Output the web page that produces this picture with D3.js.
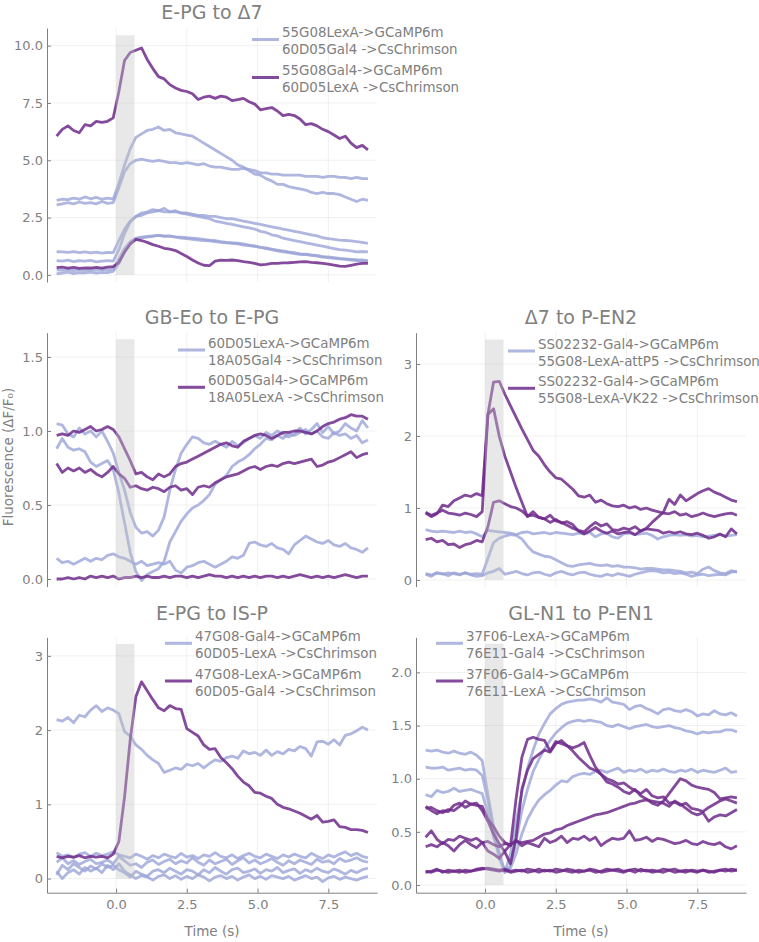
<!DOCTYPE html>
<html lang="en">
<head>
<meta charset="UTF-8">
<title>Connectivity traces</title>
<script src="https://cdn.jsdelivr.net/npm/d3@7"></script>
<style>
  body{margin:0;background:#fff;}
  text{font-family:"DejaVu Sans",sans-serif;fill:#808080;}
</style>
</head>
<body>
<svg width="759" height="942"></svg>
<script>
// sample times (s), shared by every trace
var time = [-2.1,-1.9,-1.7,-1.5,-1.3,-1.1,-0.9,-0.7,-0.5,-0.3,-0.1,
  0.1,0.3,0.5,0.7,0.9,1.1,1.3,1.5,1.7,1.9,
  2.1,2.3,2.5,2.7,2.9,3.1,3.3,3.5,3.7,3.9,
  4.1,4.3,4.5,4.7,4.9,5.1,5.3,5.5,5.7,5.9,
  6.1,6.3,6.5,6.7,6.9,7.1,7.3,7.5,7.7,7.9,
  8.1,8.3,8.5,8.7,8.9];
var stimWindow = [0, 0.65];
var xTicks = [0, 2.5, 5, 7.5];

// E-PG to Δ7
var epgD7Light = [
  [3.25,3.3,3.28,3.35,3.3,3.4,3.32,3.38,3.3,3.35,3.3,
   4.0,4.8,5.5,6.0,6.15,6.3,6.35,6.45,6.3,6.35,
   6.2,6.15,6.1,6.05,5.9,5.75,5.6,5.45,5.3,5.15,
   5.0,4.8,4.7,4.55,4.4,4.35,4.2,4.1,3.95,3.95,
   3.85,3.8,3.75,3.7,3.6,3.55,3.6,3.55,3.55,3.5,
   3.4,3.3,3.2,3.3,3.25],
  [3.05,3.1,3.15,3.1,3.18,3.12,3.15,3.1,3.2,3.12,3.15,
   3.8,4.5,4.85,5.0,5.05,5.0,4.95,5.0,4.95,4.9,
   4.9,4.85,4.9,4.85,4.8,4.85,4.75,4.7,4.7,4.65,
   4.6,4.6,4.65,4.6,4.55,4.45,4.45,4.4,4.4,4.35,
   4.35,4.35,4.35,4.3,4.3,4.3,4.25,4.3,4.3,4.25,
   4.25,4.2,4.25,4.2,4.2],
  [1.01,1.0,0.98,1.02,0.97,1.0,0.96,0.99,0.95,0.98,0.97,
   1.5,2.0,2.35,2.55,2.6,2.7,2.75,2.8,2.75,2.75,
   2.75,2.7,2.7,2.65,2.6,2.6,2.55,2.55,2.5,2.45,
   2.45,2.4,2.35,2.3,2.25,2.2,2.15,2.1,2.05,2.0,
   1.95,1.9,1.85,1.8,1.75,1.7,1.62,1.58,1.55,1.52,
   1.5,1.48,1.45,1.42,1.38],
  [0.62,0.6,0.64,0.58,0.62,0.6,0.63,0.57,0.6,0.62,0.6,
   1.1,1.8,2.3,2.55,2.7,2.75,2.85,2.8,2.9,2.75,
   2.8,2.7,2.65,2.6,2.55,2.5,2.45,2.35,2.3,2.25,
   2.2,2.15,2.1,2.05,2.0,1.9,1.85,1.75,1.7,1.6,
   1.55,1.5,1.45,1.4,1.35,1.3,1.25,1.2,1.15,1.1,
   1.08,1.05,1.0,1.02,1.0],
  [0.22,0.2,0.24,0.19,0.22,0.2,0.23,0.21,0.24,0.22,0.25,
   0.7,1.15,1.45,1.6,1.65,1.68,1.7,1.72,1.7,1.68,
   1.66,1.65,1.62,1.6,1.58,1.55,1.52,1.5,1.45,1.42,
   1.4,1.38,1.35,1.3,1.25,1.2,1.18,1.12,1.08,1.05,
   1.0,0.97,0.92,0.9,0.87,0.85,0.8,0.78,0.75,0.72,
   0.7,0.68,0.66,0.65,0.62],
  [0.05,0.08,0.12,0.06,0.1,0.09,0.12,0.08,0.11,0.1,0.15,
   0.5,1.0,1.35,1.55,1.62,1.65,1.68,1.72,1.68,1.7,
   1.65,1.6,1.58,1.55,1.52,1.5,1.48,1.45,1.42,1.4,
   1.38,1.35,1.3,1.28,1.25,1.2,1.15,1.1,1.05,1.0,
   0.97,0.93,0.9,0.88,0.85,0.82,0.78,0.75,0.72,0.7,
   0.68,0.65,0.62,0.6,0.58]
];
var epgD7Dark = [
  [6.05,6.35,6.5,6.3,6.2,6.55,6.5,6.7,6.65,6.7,6.85,
   8.0,9.35,9.7,9.8,9.9,9.4,9.0,8.65,8.55,8.3,
   8.15,8.05,8.0,7.9,7.65,7.75,7.8,7.7,7.8,7.75,
   7.6,7.65,7.7,7.55,7.45,7.2,7.25,7.3,7.15,6.95,
   7.0,6.95,6.8,6.55,6.6,6.5,6.35,6.25,6.1,5.95,
   6.05,5.75,5.55,5.65,5.45],
  [0.32,0.34,0.3,0.33,0.28,0.31,0.3,0.33,0.3,0.34,0.36,
   0.55,1.0,1.35,1.55,1.5,1.42,1.32,1.25,1.16,1.12,
   1.06,0.93,0.8,0.65,0.52,0.42,0.4,0.6,0.64,0.63,
   0.65,0.62,0.58,0.55,0.5,0.44,0.46,0.5,0.5,0.52,
   0.53,0.55,0.57,0.58,0.55,0.53,0.5,0.47,0.43,0.38,
   0.37,0.42,0.47,0.5,0.5]
];

// GB-Eo to E-PG
var gbeoEpgLight = [
  [1.05,1.04,0.98,0.96,1.02,0.98,1.0,0.96,1.0,0.93,0.85,
   0.72,0.6,0.45,0.35,0.31,0.32,0.29,0.33,0.42,0.6,
   0.74,0.85,0.91,0.96,0.95,0.92,0.91,0.93,0.91,0.89,
   0.93,0.9,0.92,0.95,0.97,0.95,0.99,0.97,1.0,0.98,
   0.96,0.98,1.02,0.98,1.01,1.05,0.99,1.03,0.98,1.0,
   1.05,1.02,1.0,1.07,1.02],
  [0.88,0.95,0.89,0.87,0.88,0.86,0.79,0.76,0.78,0.8,0.74,
   0.58,0.38,0.18,0.05,-0.01,0.03,0.05,0.07,0.12,0.25,
   0.32,0.39,0.44,0.48,0.5,0.53,0.57,0.64,0.67,0.7,
   0.76,0.79,0.81,0.84,0.88,0.91,0.95,0.94,0.97,0.95,
   0.98,0.97,0.99,1.01,0.98,1.0,0.96,0.95,0.99,0.97,
   0.98,0.95,0.97,0.92,0.94],
  [0.14,0.11,0.12,0.1,0.12,0.14,0.12,0.14,0.13,0.16,0.17,
   0.15,0.14,0.12,0.1,0.12,0.09,0.1,0.11,0.1,0.12,
   0.06,0.04,0.08,0.09,0.11,0.12,0.1,0.08,0.1,0.12,
   0.15,0.14,0.16,0.24,0.25,0.23,0.22,0.24,0.21,0.2,
   0.17,0.23,0.26,0.29,0.27,0.25,0.24,0.26,0.23,0.22,
   0.24,0.21,0.2,0.18,0.21]
];
var gbeoEpgDark = [
  [0.97,0.98,0.97,1.0,0.99,1.01,1.03,1.0,1.01,1.03,1.01,
   0.96,0.88,0.8,0.71,0.72,0.69,0.67,0.71,0.69,0.71,
   0.76,0.78,0.79,0.81,0.83,0.85,0.87,0.89,0.91,0.92,
   0.9,0.89,0.93,0.95,0.97,0.98,0.97,0.95,0.97,0.99,
   0.99,1.0,1.0,0.99,0.98,1.0,1.03,1.05,1.06,1.08,
   1.09,1.11,1.1,1.1,1.08],
  [0.78,0.72,0.75,0.73,0.75,0.72,0.74,0.71,0.69,0.72,0.76,
   0.71,0.68,0.62,0.63,0.61,0.6,0.62,0.61,0.59,0.62,
   0.63,0.6,0.61,0.57,0.62,0.63,0.62,0.65,0.67,0.69,
   0.7,0.71,0.73,0.75,0.76,0.74,0.76,0.77,0.76,0.78,
   0.79,0.78,0.79,0.8,0.81,0.76,0.77,0.79,0.8,0.82,
   0.84,0.86,0.82,0.84,0.85],
  [0.0,0.0,0.01,0.0,0.01,0.0,0.02,0.01,0.02,0.01,0.02,
   0.0,0.01,0.01,0.02,0.01,0.02,0.01,0.01,0.02,0.01,
   0.02,0.02,0.01,0.02,0.01,0.02,0.03,0.02,0.02,0.01,
   0.02,0.01,0.02,0.01,0.02,0.01,0.02,0.02,0.01,0.02,
   0.01,0.02,0.03,0.02,0.01,0.02,0.01,0.02,0.01,0.02,
   0.03,0.02,0.01,0.02,0.02]
];

// Δ7 to P-EN2
var d7Pen2Light = [
  [0.7,0.68,0.67,0.68,0.67,0.66,0.68,0.66,0.67,0.64,0.6,
   0.69,0.68,0.67,0.66,0.65,0.63,0.66,0.67,0.64,0.65,
   0.66,0.64,0.66,0.65,0.64,0.63,0.65,0.64,0.66,0.6,
   0.64,0.65,0.6,0.58,0.64,0.65,0.63,0.64,0.65,0.62,
   0.57,0.6,0.62,0.63,0.62,0.63,0.61,0.62,0.6,0.61,
   0.62,0.63,0.61,0.62,0.63],
  [0.09,0.07,0.1,0.08,0.1,0.09,0.07,0.1,0.08,0.09,0.08,
   0.3,0.52,0.58,0.61,0.63,0.62,0.57,0.47,0.39,0.36,
   0.33,0.32,0.28,0.24,0.2,0.19,0.21,0.22,0.23,0.21,
   0.2,0.21,0.19,0.2,0.18,0.18,0.17,0.15,0.16,0.16,
   0.15,0.14,0.14,0.13,0.12,0.1,0.11,0.09,0.15,0.18,
   0.13,0.1,0.09,0.13,0.11],
  [0.08,0.05,0.1,0.09,0.06,0.1,0.08,0.1,0.07,0.05,0.06,
   0.1,0.12,0.16,0.08,0.1,0.12,0.09,0.07,0.1,0.11,
   0.08,0.06,0.1,0.12,0.09,0.07,0.1,0.11,0.08,0.06,
   0.05,0.08,0.06,0.09,0.07,0.05,0.08,0.1,0.12,0.13,
   0.12,0.1,0.11,0.09,0.1,0.08,0.05,0.07,0.08,0.06,
   0.07,0.08,0.07,0.11,0.12]
];
var d7Pen2Dark = [
  [0.93,0.88,0.92,1.04,1.02,1.1,1.14,1.18,1.16,1.2,1.17,
   2.3,2.75,2.76,2.58,2.42,2.26,2.1,1.95,1.8,1.72,
   1.6,1.5,1.42,1.4,1.33,1.26,1.17,1.15,1.18,1.08,
   1.11,1.06,1.03,1.02,1.04,1.0,1.02,0.98,1.0,0.97,
   0.95,0.93,0.92,0.95,0.9,0.92,0.88,0.9,0.93,0.9,
   0.88,0.9,0.92,0.93,0.9],
  [0.94,0.9,0.93,0.97,0.93,0.92,0.9,0.93,0.91,0.88,0.95,
   2.3,2.38,2.0,1.72,1.5,1.28,1.08,0.88,0.95,0.87,
   0.85,0.9,0.82,0.8,0.76,0.72,0.69,0.67,0.74,0.8,
   0.75,0.78,0.7,0.69,0.72,0.7,0.74,0.68,0.71,0.7,
   0.69,0.65,0.67,0.65,0.67,0.64,0.63,0.65,0.62,0.58,
   0.6,0.64,0.6,0.71,0.64],
  [0.56,0.58,0.53,0.55,0.49,0.5,0.45,0.49,0.51,0.55,0.53,
   0.74,1.08,1.1,1.06,1.02,1.0,0.96,0.89,0.9,0.87,
   0.85,0.8,0.84,0.79,0.81,0.77,0.68,0.64,0.68,0.73,
   0.68,0.65,0.68,0.64,0.66,0.67,0.63,0.68,0.72,0.8,
   0.87,0.94,1.12,1.05,1.18,1.1,1.15,1.2,1.24,1.27,
   1.22,1.19,1.15,1.11,1.09]
];

// E-PG to IS-P
var epgIspLight = [
  [2.14,2.12,2.17,2.1,2.2,2.18,2.27,2.33,2.25,2.3,2.27,
   2.22,1.98,1.92,1.8,1.74,1.66,1.6,1.55,1.43,1.46,
   1.49,1.47,1.54,1.52,1.55,1.49,1.55,1.6,1.58,1.63,
   1.65,1.62,1.72,1.68,1.7,1.66,1.73,1.66,1.71,1.68,
   1.74,1.72,1.78,1.75,1.65,1.84,1.85,1.81,1.87,1.8,
   1.93,1.95,1.99,2.04,2.0],
  [0.35,0.3,0.32,0.28,0.33,0.35,0.3,0.34,0.31,0.33,0.36,
   0.32,0.3,0.28,0.33,0.3,0.26,0.31,0.28,0.33,0.3,
   0.28,0.34,0.29,0.31,0.27,0.32,0.3,0.35,0.3,0.28,
   0.32,0.27,0.31,0.34,0.3,0.28,0.33,0.3,0.27,0.32,
   0.29,0.33,0.3,0.28,0.34,0.3,0.27,0.32,0.29,0.33,
   0.36,0.31,0.34,0.3,0.28],
  [0.22,0.28,0.2,0.24,0.19,0.23,0.26,0.2,0.22,0.25,0.2,
   0.3,0.24,0.18,0.2,0.15,0.22,0.25,0.19,0.23,0.26,
   0.2,0.24,0.21,0.28,0.22,0.18,0.25,0.2,0.23,0.26,
   0.19,0.24,0.28,0.21,0.25,0.2,0.23,0.27,0.22,0.18,
   0.24,0.2,0.25,0.22,0.19,0.26,0.22,0.24,0.2,0.27,
   0.23,0.25,0.28,0.24,0.22],
  [0.05,0.18,0.12,0.2,0.15,0.1,0.17,0.13,0.2,0.15,0.18,
   0.12,0.08,0.02,0.1,0.06,0.03,0.1,0.12,0.08,0.14,
   0.1,0.06,0.12,0.1,0.05,0.12,0.08,0.15,0.1,0.06,
   0.12,0.14,0.08,0.1,0.13,0.07,0.12,0.1,0.15,0.08,
   0.11,0.13,0.07,0.12,0.09,0.14,0.1,0.08,0.13,0.1,
   0.06,0.11,0.08,0.12,0.14],
  [0.1,0.0,0.08,0.12,0.06,0.15,0.1,0.14,0.08,0.18,0.12,
   0.2,0.1,0.05,0.0,0.04,0.02,-0.02,0.03,0.05,0.0,
   0.04,-0.01,0.03,0.0,0.05,0.02,-0.03,0.02,0.04,0.0,
   0.03,-0.02,0.02,0.05,0.0,0.03,-0.01,0.04,0.02,0.0,
   0.03,-0.02,0.01,0.04,0.0,0.02,-0.04,0.01,0.03,-0.01,
   0.02,0.0,-0.02,0.01,0.03]
];
var epgIspDark = [
  [0.3,0.28,0.3,0.29,0.31,0.28,0.3,0.29,0.3,0.28,0.33,
   0.5,1.1,1.87,2.45,2.65,2.53,2.41,2.3,2.26,2.33,
   2.29,2.28,2.02,1.97,1.92,1.8,1.74,1.75,1.63,1.56,
   1.48,1.38,1.3,1.25,1.16,1.15,1.11,1.08,1.0,0.96,
   0.94,0.91,0.88,0.84,0.8,0.85,0.76,0.77,0.79,0.7,
   0.69,0.66,0.66,0.65,0.62]
];

// GL-N1 to P-EN1
var gln1Pen1Light = [
  [1.27,1.26,1.27,1.25,1.24,1.26,1.24,1.23,1.25,1.22,1.17,
   0.85,0.55,0.3,0.12,0.3,0.6,0.87,1.1,1.27,1.42,
   1.52,1.61,1.66,1.7,1.72,1.73,1.74,1.74,1.75,1.74,
   1.72,1.76,1.72,1.71,1.7,1.65,1.68,1.69,1.66,1.64,
   1.61,1.65,1.66,1.64,1.63,1.65,1.63,1.59,1.61,1.6,
   1.64,1.61,1.6,1.62,1.59],
  [1.11,1.1,1.1,1.11,1.08,1.09,1.1,1.08,1.09,1.08,1.03,
   0.8,0.5,0.25,0.13,0.18,0.42,0.7,0.9,1.07,1.18,
   1.28,1.36,1.43,1.48,1.52,1.54,1.55,1.54,1.55,1.54,
   1.53,1.5,1.49,1.51,1.49,1.47,1.49,1.5,1.51,1.49,
   1.48,1.49,1.5,1.48,1.47,1.45,1.44,1.42,1.44,1.43,
   1.44,1.44,1.46,1.46,1.44],
  [0.85,0.83,0.89,0.87,0.88,0.91,0.88,0.89,0.9,0.88,0.86,
   0.68,0.45,0.3,0.12,0.16,0.3,0.48,0.62,0.72,0.8,
   0.85,0.89,0.94,0.98,0.97,1.02,1.04,1.05,1.04,1.07,
   1.08,1.06,1.08,1.1,1.06,1.08,1.07,1.09,1.06,1.08,
   1.07,1.09,1.07,1.06,1.08,1.07,1.09,1.06,1.08,1.07,
   1.06,1.08,1.1,1.06,1.07]
];
var gln1Pen1Dark = [
  [0.72,0.73,0.7,0.68,0.71,0.7,0.74,0.79,0.76,0.75,0.74,
   0.62,0.55,0.46,0.4,0.37,0.82,1.2,1.37,1.39,1.37,
   1.36,1.26,1.35,1.33,1.31,1.26,1.2,1.15,1.1,1.08,
   1.04,1.0,0.98,0.95,0.96,0.92,0.89,0.86,0.9,0.84,
   0.82,0.83,0.77,0.78,0.75,0.77,0.72,0.71,0.69,0.73,
   0.76,0.79,0.81,0.79,0.77],
  [0.74,0.7,0.67,0.7,0.69,0.75,0.77,0.73,0.76,0.77,0.7,
   0.6,0.48,0.39,0.31,0.2,0.45,0.9,1.08,1.19,1.23,
   1.27,1.25,1.33,1.36,1.31,1.29,1.31,1.34,1.22,1.11,
   1.04,0.97,0.95,0.92,0.88,0.86,0.9,0.84,0.81,0.77,
   0.75,0.79,0.86,0.93,1.0,0.98,0.94,0.92,0.91,0.9,
   0.87,0.81,0.82,0.83,0.82],
  [0.45,0.51,0.43,0.39,0.43,0.42,0.46,0.44,0.42,0.44,0.4,
   0.32,0.29,0.25,0.32,0.38,0.41,0.4,0.41,0.42,0.45,
   0.48,0.49,0.52,0.53,0.56,0.58,0.6,0.62,0.64,0.66,
   0.67,0.68,0.7,0.72,0.74,0.76,0.77,0.79,0.8,0.79,
   0.78,0.77,0.74,0.79,0.76,0.72,0.68,0.66,0.68,0.6,
   0.64,0.66,0.65,0.68,0.71],
  [0.36,0.38,0.36,0.4,0.37,0.32,0.38,0.42,0.38,0.35,0.4,
   0.41,0.38,0.36,0.39,0.38,0.42,0.37,0.4,0.38,0.36,
   0.44,0.4,0.42,0.46,0.4,0.44,0.43,0.46,0.42,0.45,
   0.37,0.41,0.44,0.43,0.44,0.51,0.42,0.43,0.45,0.41,
   0.44,0.43,0.41,0.39,0.4,0.42,0.39,0.38,0.41,0.39,
   0.38,0.4,0.36,0.34,0.37],
  [0.12,0.13,0.15,0.12,0.14,0.13,0.12,0.14,0.13,0.15,0.16,
   0.15,0.14,0.13,0.14,0.12,0.13,0.14,0.12,0.13,0.15,
   0.13,0.14,0.12,0.13,0.15,0.14,0.12,0.13,0.14,0.12,
   0.13,0.15,0.14,0.13,0.12,0.14,0.15,0.13,0.14,0.12,
   0.13,0.15,0.14,0.12,0.13,0.14,0.13,0.12,0.14,0.13,
   0.12,0.14,0.13,0.15,0.14],
  [0.13,0.12,0.14,0.13,0.12,0.13,0.14,0.12,0.13,0.14,0.15,
   0.16,0.15,0.14,0.15,0.13,0.14,0.13,0.15,0.14,0.12,
   0.14,0.13,0.15,0.14,0.13,0.12,0.14,0.13,0.15,0.14,
   0.12,0.13,0.14,0.15,0.13,0.14,0.12,0.15,0.13,0.14,
   0.13,0.12,0.14,0.15,0.13,0.12,0.14,0.13,0.14,0.12,
   0.13,0.14,0.15,0.13,0.14]
];

/********************************************************************/
// layout
var svg = d3.select('svg');
var colX = [[47, 377], [416, 746]];
var rowY = [[28, 282], [332.7, 586.7], [637.3, 892.7]];
var titleY = [12, 317, 613];
var xDomain = [-2.44, 9.22];
var lightColor = '#9ba4d7';
var darkColor = '#6e2a8b';
var textColor = '#808080';

var panels = [
  {title: 'E-PG to \u03947', light: epgD7Light, dark: epgD7Dark, col: 0, row: 0,
   yDomain: [-0.31, 10.77], yTicks: [0, 2.5, 5, 7.5, 10], fmt: '.1f', stimTop: 10.45,
   legend: [['55G08LexA->GCaMP6m', '60D05Gal4 ->CsChrimson'], ['55G08Gal4->GCaMP6m', '60D05LexA ->CsChrimson']],
   legendX: 252, legendY: 39.5, legendGap: 38, xAxis: false},
  {title: 'GB-Eo to E-PG', light: gbeoEpgLight, dark: gbeoEpgDark, col: 0, row: 1,
   yDomain: [-0.052, 1.664], yTicks: [0, 0.5, 1, 1.5], fmt: '.1f', stimTop: 1.62,
   legend: [['60D05LexA->GCaMP6m', '18A05Gal4 ->CsChrimson'], ['60D05Gal4->GCaMP6m', '18A05LexA ->CsChrimson']],
   legendX: 178, legendY: 350, legendGap: 37.3, xAxis: false},
  {title: '\u03947 to P-EN2', light: d7Pen2Light, dark: d7Pen2Dark, col: 1, row: 1,
   yDomain: [-0.093, 3.435], yTicks: [0, 1, 2, 3], fmt: 'd', stimTop: 3.34,
   legend: [['SS02232-Gal4->GCaMP6m', '55G08-LexA-attP5 ->CsChrimson'], ['SS02232-Gal4->GCaMP6m', '55G08-LexA-VK22 ->CsChrimson']],
   legendX: 508, legendY: 351, legendGap: 37.3, xAxis: false},
  {title: 'E-PG to IS-P', light: epgIspLight, dark: epgIspDark, col: 0, row: 2,
   yDomain: [-0.19, 3.25], yTicks: [0, 1, 2, 3], fmt: 'd', stimTop: 3.16,
   legend: [['47G08-Gal4->GCaMP6m', '60D05-LexA ->CsChrimson'], ['47G08-LexA->GCaMP6m', '60D05-Gal4 ->CsChrimson']],
   legendX: 165, legendY: 643.3, legendGap: 37.7, xAxis: true},
  {title: 'GL-N1 to P-EN1', light: gln1Pen1Light, dark: gln1Pen1Dark, col: 1, row: 2,
   yDomain: [-0.072, 2.33], yTicks: [0, 0.5, 1, 1.5, 2], fmt: '.1f', stimTop: 2.27,
   legend: [['37F06-LexA->GCaMP6m', '76E11-Gal4 ->CsChrimson'], ['37F06-Gal4->GCaMP6m', '76E11-LexA ->CsChrimson']],
   legendX: 436, legendY: 643.3, legendGap: 37.7, xAxis: true}
];

panels.forEach(function(p) {
  var xr = colX[p.col], yr = rowY[p.row];
  var x = d3.scaleLinear().domain(xDomain).range(xr);
  var y = d3.scaleLinear().domain(p.yDomain).range([yr[1], yr[0]]);
  var g = svg.append('g');

  // grid
  g.selectAll('.vgrid').data(xTicks).enter().append('line')
    .attr('x1', function(d) { return x(d); }).attr('x2', function(d) { return x(d); })
    .attr('y1', yr[0]).attr('y2', yr[1])
    .attr('stroke', '#000').attr('stroke-opacity', 0.06);
  g.selectAll('.hgrid').data(p.yTicks).enter().append('line')
    .attr('x1', xr[0]).attr('x2', xr[1])
    .attr('y1', function(d) { return y(d); }).attr('y2', function(d) { return y(d); })
    .attr('stroke', '#000').attr('stroke-opacity', 0.06);

  // traces
  var line = d3.line()
    .x(function(d, i) { return x(time[i]); })
    .y(function(d) { return y(d); });
  g.selectAll('.light').data(p.light).enter().append('path')
    .attr('d', line).attr('fill', 'none')
    .attr('stroke', lightColor).attr('stroke-opacity', 0.8)
    .attr('stroke-width', 2.8).attr('stroke-linejoin', 'round');
  g.selectAll('.dark').data(p.dark).enter().append('path')
    .attr('d', line).attr('fill', 'none')
    .attr('stroke', darkColor).attr('stroke-opacity', 0.85)
    .attr('stroke-width', 2.8).attr('stroke-linejoin', 'round');

  // stimulation window, drawn over the traces
  g.append('rect')
    .attr('x', x(stimWindow[0])).attr('width', x(stimWindow[1]) - x(stimWindow[0]))
    .attr('y', y(p.stimTop)).attr('height', y(0) - y(p.stimTop))
    .attr('fill', '#c2c2c2').attr('fill-opacity', 0.38);

  // y axis
  var yAxis = d3.axisLeft(y).tickValues(p.yTicks).tickFormat(d3.format(p.fmt))
    .tickSizeInner(-4).tickSizeOuter(0).tickPadding(4);
  var ya = g.append('g').attr('transform', 'translate(' + xr[0] + ',0)').call(yAxis);
  ya.attr('font-family', 'DejaVu Sans').attr('font-size', 13).attr('color', textColor);

  // x axis only on the bottom row
  if (p.xAxis) {
    var xAxis = d3.axisBottom(x).tickValues(xTicks).tickFormat(d3.format('.1f'))
      .tickSizeInner(-4).tickSizeOuter(0).tickPadding(7);
    var xa = g.append('g').attr('transform', 'translate(0,' + yr[1] + ')').call(xAxis);
    xa.attr('font-family', 'DejaVu Sans').attr('font-size', 13).attr('color', textColor);
    g.append('text').attr('x', (xr[0] + xr[1]) / 2).attr('y', 931.7)
      .attr('dy', '0.35em').attr('text-anchor', 'middle').attr('font-size', 13.5)
      .text('Time (s)');
  }

  // title
  g.append('text').attr('x', (xr[0] + xr[1]) / 2).attr('y', titleY[p.row])
    .attr('dy', '0.35em').attr('text-anchor', 'middle').attr('font-size', 19)
    .text(p.title);

  // legend
  var lg = g.selectAll('.leg').data(p.legend).enter().append('g')
    .attr('transform', function(d, i) { return 'translate(' + p.legendX + ',' + (p.legendY + i * p.legendGap) + ')'; });
  lg.append('line').attr('x1', 0).attr('x2', 27).attr('y1', 0).attr('y2', 0)
    .attr('stroke', function(d, i) { return i === 0 ? lightColor : darkColor; })
    .attr('stroke-opacity', function(d, i) { return i === 0 ? 0.8 : 0.85; })
    .attr('stroke-width', 3);
  lg.append('text').attr('x', 30).attr('y', -7).attr('dy', '0.35em').attr('font-size', 13.4)
    .text(function(d) { return d[0]; });
  lg.append('text').attr('x', 30).attr('y', 10).attr('dy', '0.35em').attr('font-size', 13.4)
    .text(function(d) { return d[1]; });
});

// shared y label
svg.append('text')
  .attr('transform', 'translate(8,457) rotate(-90)')
  .attr('dy', '0.35em').attr('text-anchor', 'middle').attr('font-size', 13.5)
  .text('Fluorescence (\u0394F/F\u2080)');
</script>
</body>
</html>
